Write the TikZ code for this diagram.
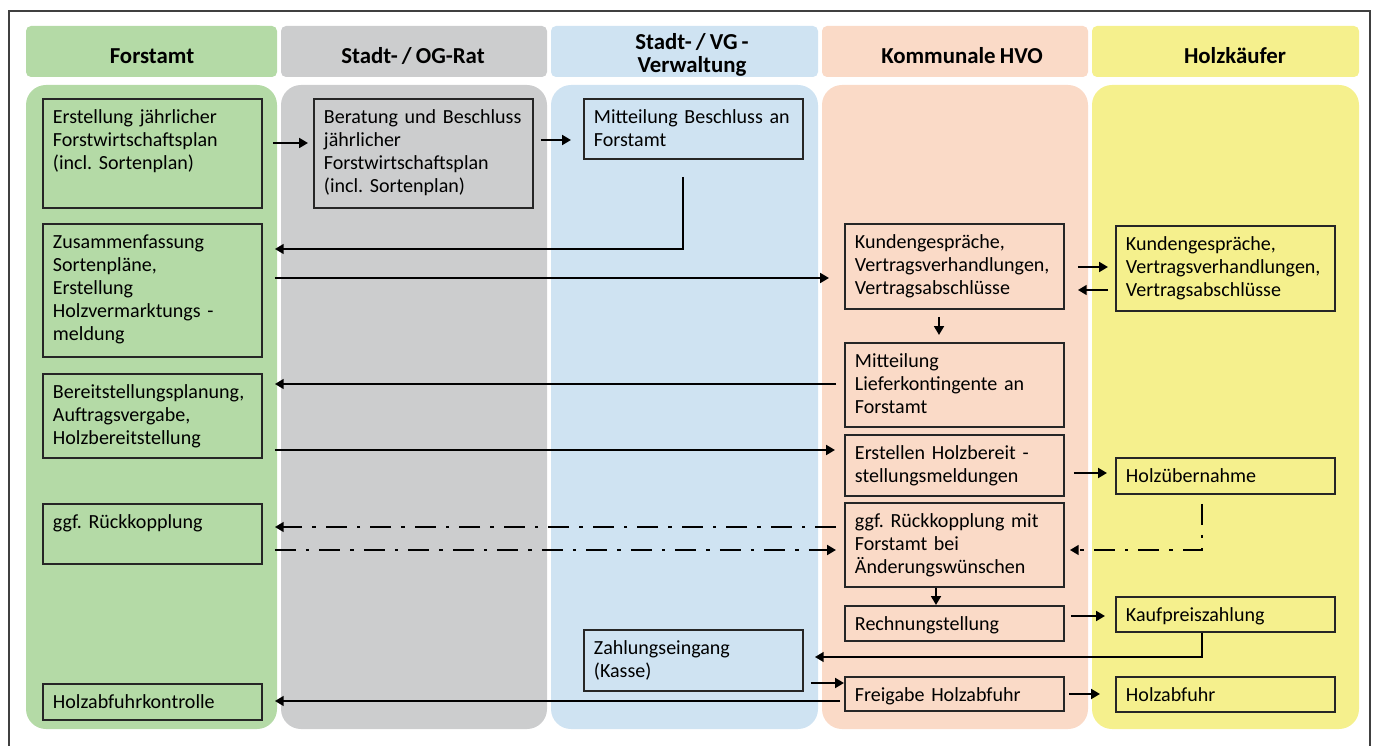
\documentclass[tikz,border=0pt]{standalone}
\usepackage{fontspec}
\setmainfont{Carlito}[WordSpace=0.8]
\usetikzlibrary{arrows.meta}

\definecolor{laneGreen}{RGB}{180,218,166}
\definecolor{laneGray}{RGB}{204,205,206}
\definecolor{laneBlue}{RGB}{207,227,242}
\definecolor{laneRose}{RGB}{250,218,199}
\definecolor{laneYellow}{RGB}{245,240,141}

\begin{document}
\frenchspacing
\begin{tikzpicture}[x=0.02cm,y=-0.02cm,
  box/.style={draw=black!85,line width=1.1pt,anchor=north west,text width=3.98cm,
    align=left,inner xsep=0.2cm,inner ysep=0.19cm,text height=0.3cm,text depth=#1,
    font=\fontsize{11.4}{13.1}\selectfont,text=black},
  head/.style={font=\fontsize{13}{13.6}\selectfont\bfseries,align=center,anchor=base,text=black},
  arr/.style={line width=1.5pt,-{Triangle[length=5pt,width=5.5pt]},shorten <=0.2cm,shorten >=0.16cm},
  dashdot/.style={arr,dash pattern=on 0.42cm off 0.2cm on 0.07cm off 0.2cm}]
  \useasboundingbox (0,0) rectangle (1382,746);
  \draw[black!75,line width=0.8pt] (9,746) -- (9,11) -- (1370,11) -- (1370,746);

  % swim lanes
  \fill[laneGreen,rounded corners=0.1cm] (26,26) rectangle (277,77);
  \fill[laneGray,rounded corners=0.1cm] (281,26) rectangle (547,77);
  \fill[laneBlue,rounded corners=0.1cm] (551,26) rectangle (818,77);
  \fill[laneRose,rounded corners=0.1cm] (822,26) rectangle (1088,77);
  \fill[laneYellow,rounded corners=0.1cm] (1092,26) rectangle (1359,77);
  \fill[laneGreen,rounded corners=0.4cm] (26,85) rectangle (277,729);
  \fill[laneGray,rounded corners=0.4cm] (281,85) rectangle (547,729);
  \fill[laneBlue,rounded corners=0.4cm] (551,85) rectangle (818,729);
  \fill[laneRose,rounded corners=0.4cm] (822,85) rectangle (1088,729);
  \fill[laneYellow,rounded corners=0.4cm] (1092,85) rectangle (1359,729);

  \node[head] (hForst) at (152,64) {Forstamt};
  \node[head] (hRat) at (413,64) {Stadt- / OG-Rat};
  \node[head] (hVerw) at (692,73) {Stadt- / VG -\\Verwaltung};
  \node[head] (hHvo) at (962,64) {Kommunale HVO};
  \node[head] (hKauf) at (1235,64) {Holzkäufer};

  % steps
  \node[box=1.50cm] (f1) at (42,98) {Erstellung jährlicher\\Forstwirtschaftsplan\\(incl. Sortenplan)};
  \node[box=1.50cm] (g1) at (313,98) {Beratung und Beschluss\\jährlicher\\Forstwirtschaftsplan\\(incl. Sortenplan)};
  \node[box=0.52cm] (b1) at (583,98) {Mitteilung Beschluss an\\Forstamt};
  \node[box=1.98cm] (f2) at (42,223) {Zusammenfassung\\Sortenpläne,\\Erstellung\\Holzvermarktungs -\\meldung};
  \node[box=1.02cm] (k1) at (844,223) {Kundengespräche,\\Vertragsverhandlungen,\\Vertragsabschlüsse};
  \node[box=1.02cm] (h1) at (1115,225) {Kundengespräche,\\Vertragsverhandlungen,\\Vertragsabschlüsse};
  \node[box=1.00cm] (k2) at (844,342) {Mitteilung\\Lieferkontingente an\\Forstamt};
  \node[box=1.00cm] (f3) at (42,373) {Bereitstellungsplanung,\\Auftragsvergabe,\\Holzbereitstellung};
  \node[box=0.54cm] (k3) at (844,434) {Erstellen Holzbereit -\\stellungsmeldungen};
  \node[box=0.04cm] (h2) at (1115,457) {Holzübernahme};
  \node[box=0.52cm] (f4) at (42,503) {ggf. Rückkopplung};
  \node[box=1.00cm] (k4) at (844,502) {ggf. Rückkopplung mit\\Forstamt bei\\Änderungswünschen};
  \node[box=0.02cm] (k5) at (844,605) {Rechnungstellung};
  \node[box=0.02cm] (h3) at (1115,596) {Kaufpreiszahlung};
  \node[box=0.54cm] (b2) at (583,629) {Zahlungseingang\\(Kasse)};
  \node[box=0.00cm] (k6) at (844,676) {Freigabe Holzabfuhr};
  \node[box=0.02cm] (h4) at (1115,676) {Holzabfuhr};
  \node[box=0.04cm] (f5) at (42,683) {Holzabfuhrkontrolle};

  % flows
  \draw[arr,shorten >=0.1cm] (f1.east |- 0,143) -- (g1.west |- 0,143);
  \draw[arr,shorten <=0.14cm,shorten >=0.24cm] (g1.east |- 0,140) -- (b1.west |- 0,140);
  \draw[arr,shorten <=0.34cm,shorten >=0.24cm] (b1.south -| 683,0) |- (f2.east |- 0,249);
  \draw[arr,shorten <=0.24cm,shorten >=0.3cm] (f2.east |- 0,278) -- (k1.west |- 0,278);
  \draw[arr,shorten <=0.26cm,shorten >=0.14cm] (k1.east |- 0,267) -- (h1.west |- 0,267);
  \draw[arr,shorten <=0.14cm,shorten >=0.26cm] (h1.west |- 0,290) -- (k1.east |- 0,290);
  \draw[arr,shorten <=0.14cm,shorten >=0.14cm] (k1.south -| 939,0) -- (k2.north -| 939,0);
  \draw[arr,shorten <=0.16cm,shorten >=0.24cm] (k2.west |- 0,384) -- (f3.east |- 0,384);
  \draw[arr,shorten <=0.24cm,shorten >=0.18cm] (f3.east |- 0,450) -- (k3.west |- 0,450);
  \draw[arr,shorten <=0.18cm,shorten >=0.16cm] (k3.east |- 0,473) -- (h2.west |- 0,473);
  \draw[dashdot,shorten <=0.16cm,shorten >=0.24cm] (k4.west |- 0,527) -- (f4.east |- 0,527);
  \draw[dashdot,shorten <=0.24cm,shorten >=0.16cm] (f4.east |- 0,550) -- (k4.west |- 0,550);
  \draw[dashdot,shorten <=0.18cm,shorten >=0.1cm] (h2.south -| 1202,0) |- (k4.east |- 0,550);
  \draw[arr,shorten <=0cm,shorten >=0cm] (k4.south -| 936,0) -- (k5.north -| 936,0);
  \draw[arr,shorten <=0.12cm,shorten >=0.2cm] (k5.east |- 0,616) -- (h3.west |- 0,616);
  \draw[arr,shorten <=0cm,shorten >=0.22cm] (h3.south -| 1202,0) |- (b2.east |- 0,657);
  \draw[arr,shorten <=0.14cm,shorten >=0cm] (b2.east |- 0,683) -- (k6.west |- 0,683);
  \draw[arr,shorten <=0.08cm,shorten >=0.24cm] (k6.west |- 0,701) -- (f5.east |- 0,701);
  \draw[arr,shorten <=0.08cm,shorten >=0.3cm] (k6.east |- 0,694) -- (h4.west |- 0,694);
\end{tikzpicture}
\end{document}
